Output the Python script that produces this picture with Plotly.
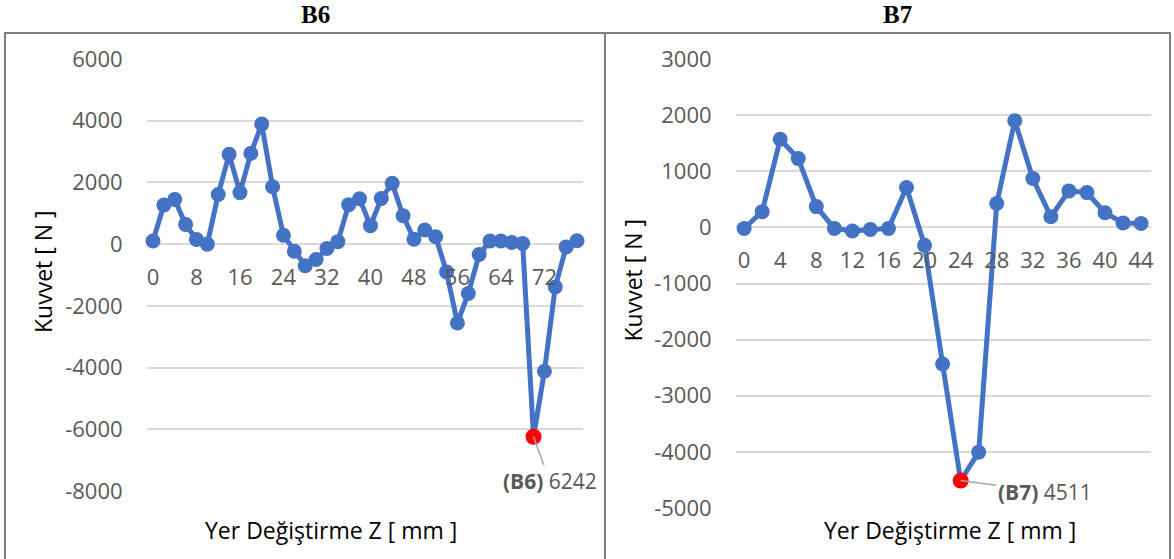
import plotly.graph_objects as go

# Displacement Z [mm] and measured force [N] for specimens B6 and B7
b6_z = [0, 2, 4, 6, 8, 10, 12, 14, 16, 18, 20, 22, 24, 26, 28, 30, 32, 34, 36, 38,
        40, 42, 44, 46, 48, 50, 52, 54, 56, 58, 60, 62, 64, 66, 68, 70, 72, 74, 76, 78]
b6_force = [100, 1270, 1450, 640, 150, 0, 1610, 2910, 1670, 2940,
            3890, 1860, 290, -230, -700, -500, -140, 80, 1280, 1470,
            600, 1480, 1970, 920, 160, 460, 240, -900, -2555, -1600,
            -335, 100, 100, 55, 20, -6242, -4120, -1385, -90, 110]

b7_z = [0, 2, 4, 6, 8, 10, 12, 14, 16, 18, 20, 22, 24, 26, 28, 30, 32, 34, 36, 38, 40, 42, 44]
b7_force = [-20, 280, 1570, 1225, 370, -18, -65, -36, -18, 710,
            -320, -2434, -4511, -4005, 425, 1900, 870, 190, 650, 620,
            260, 80, 70]

b6_xticks = [0, 8, 16, 24, 32, 40, 48, 56, 64, 72]
b7_xticks = [0, 4, 8, 12, 16, 20, 24, 28, 32, 36, 40, 44]
b6_yticks = [6000, 4000, 2000, 0, -2000, -4000, -6000, -8000]
b7_yticks = [3000, 2000, 1000, 0, -1000, -2000, -3000, -4000, -5000]

titles = ["B6", "B7"]
y_title = "Kuvvet [ N ]"
x_title = "Yer Değiştirme Z [ mm ]"

W, H = 1174, 559
LINE = "#4472C4"
TXT = "#595959"
GRID = "#D9D9D9"
FONT = "Open Sans"


def fx(px):
    return px / W


def fy(py):
    return 1 - py / H


fig = go.Figure()

panels = [
    dict(z=b6_z, f=b6_force, xt=b6_xticks, yt=b6_yticks, xr=[-1.1, 79.1],
         xpx=(147, 583), ypx=(59, 491), name="B6", ax=16, ay=44,
         xtitle=331, frame=(5, 605)),
    dict(z=b7_z, f=b7_force, xt=b7_xticks, yt=b7_yticks, xr=[-0.9, 45.1],
         xpx=(736, 1151), ypx=(59, 508), name="B7", ax=84, ay=11,
         xtitle=950, frame=(605, 1170)),
]

annotations = []
shapes = []
for i, p in enumerate(panels, start=1):
    xa = "x" if i == 1 else f"x{i}"
    ya = "y" if i == 1 else f"y{i}"
    ymin, ymax = min(p["yt"]), max(p["yt"])
    dom_x = [fx(p["xpx"][0]), fx(p["xpx"][1])]
    dom_y = [fy(p["ypx"][1]), fy(p["ypx"][0])]
    zero_pos = dom_y[0] + (0 - ymin) / (ymax - ymin) * (dom_y[1] - dom_y[0])

    fig.add_trace(go.Scatter(
        x=p["z"], y=p["f"], mode="lines+markers", xaxis=xa, yaxis=ya,
        line=dict(color=LINE, width=5), marker=dict(color=LINE, size=15),
        showlegend=False, cliponaxis=False))

    # minimum force point highlighted in red
    k = p["f"].index(min(p["f"]))
    fig.add_trace(go.Scatter(
        x=[p["z"][k]], y=[p["f"][k]], mode="markers", xaxis=xa, yaxis=ya,
        marker=dict(color="#FF0000", size=16), showlegend=False, cliponaxis=False))

    annotations.append(dict(
        x=p["z"][k], y=p["f"][k], xref=xa, yref=ya,
        text=f"<b>({p['name']})</b> {abs(p['f'][k])}",
        showarrow=True, arrowhead=0, arrowwidth=1.5, arrowcolor="#A6A6A6",
        ax=p["ax"], ay=p["ay"], font=dict(family=FONT, size=21, color=TXT)))

    ax_key = "xaxis" if i == 1 else f"xaxis{i}"
    ay_key = "yaxis" if i == 1 else f"yaxis{i}"
    fig.update_layout({
        ax_key: dict(domain=dom_x, range=p["xr"], anchor="free", position=zero_pos,
                     tickvals=p["xt"], ticktext=[str(v) for v in p["xt"]],
                     showgrid=False, zeroline=False, showline=False, automargin=False,
                     ticks="outside", ticklen=13, tickcolor="rgba(0,0,0,0)",
                     tickfont=dict(family=FONT, size=22, color=TXT)),
        ay_key: dict(domain=dom_y, range=[ymin, ymax], anchor=xa,
                     tickvals=p["yt"], ticktext=[str(v) for v in p["yt"]],
                     showgrid=True, gridcolor=GRID, gridwidth=1.5,
                     zeroline=False, showline=False, automargin=False,
                     ticks="outside", ticklen=19, tickcolor="rgba(0,0,0,0)",
                     tickfont=dict(family=FONT, size=22, color=TXT)),
    })

    # panel title
    annotations.append(dict(
        x=fx((p["frame"][0] + p["frame"][1]) / 2 + 10), y=fy(15), xref="paper", yref="paper",
        xanchor="center", yanchor="middle",
        text=f"<b>{titles[i - 1]}</b>", showarrow=False,
        font=dict(family="Liberation Serif", size=25, color="black")))
    # axis titles
    annotations.append(dict(
        x=fx(p["xpx"][0] - 104), y=fy((p["ypx"][0] + p["ypx"][1]) / 2 - 3),
        xref="paper", yref="paper", xanchor="center", yanchor="middle",
        text=y_title, textangle=-90, showarrow=False,
        font=dict(family=FONT, size=23, color="black")))
    annotations.append(dict(
        x=fx(p["xtitle"]), y=fy(530), xref="paper", yref="paper",
        xanchor="center", yanchor="middle",
        text=x_title, showarrow=False, font=dict(family=FONT, size=23, color="black")))

    # panel frame
    shapes.append(dict(type="rect", xref="paper", yref="paper",
                       x0=fx(p["frame"][0]), x1=fx(p["frame"][1]),
                       y0=-0.01, y1=fy(33), line=dict(color="#7F7F7F", width=2)))

fig.update_layout(
    width=W, height=H, autosize=False,
    margin=dict(l=0, r=0, t=0, b=0, pad=0, autoexpand=False),
    paper_bgcolor="white", plot_bgcolor="white",
    annotations=annotations, shapes=shapes,
)

fig.write_html("out.html")
